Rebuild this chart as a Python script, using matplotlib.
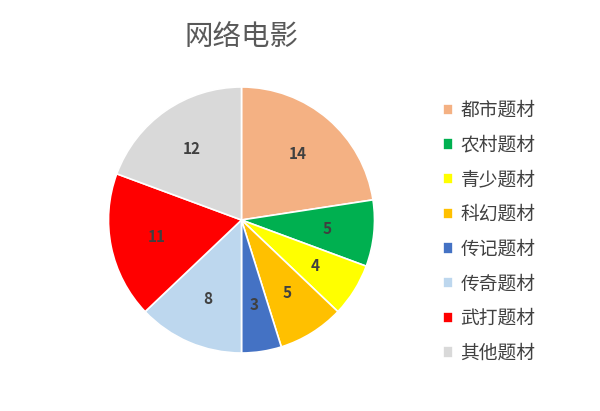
import matplotlib
matplotlib.use("Agg")
import matplotlib.pyplot as plt

plt.rcParams['font.family'] = ['Noto Sans CJK SC', 'DejaVu Sans']

categories = ['都市题材', '农村题材', '青少题材', '科幻题材', '传记题材', '传奇题材', '武打题材', '其他题材']
counts = [14, 5, 4, 5, 3, 8, 11, 12]
colors = ['#F4B183', '#00B050', '#FFFF00', '#FFC000', '#4472C4', '#BDD7EE', '#FF0000', '#D9D9D9']

fig = plt.figure(figsize=(6, 4.11), dpi=100)
ax = fig.add_axes([0, 0, 1, 1])

wedges, texts, autotexts = ax.pie(
    counts, colors=colors, startangle=90, counterclock=False,
    center=(241.5, 191), radius=133, frame=True,
    autopct=lambda p: '{:.0f}'.format(p * sum(counts) / 100), pctdistance=0.65,
    wedgeprops=dict(edgecolor='white', linewidth=1.2),
    textprops=dict(color='#404040', fontsize=11, fontweight='bold'))
ax.set_xlim(0, 600)
ax.set_ylim(0, 411)
ax.set_aspect('equal')
ax.axis('off')

fig.text(0.403, 0.91, '网络电影', ha='center', va='center', fontsize=20.5, color='#595959')

fig.legend(wedges, categories, loc='upper left', bbox_to_anchor=(0.738, 0.757),
           frameon=False, fontsize=13.5, handlelength=0.55, handleheight=0.55,
           handletextpad=0.4, labelspacing=0.73, borderpad=0, borderaxespad=0,
           labelcolor='#404040')

fig.savefig('out.png', dpi=100)
